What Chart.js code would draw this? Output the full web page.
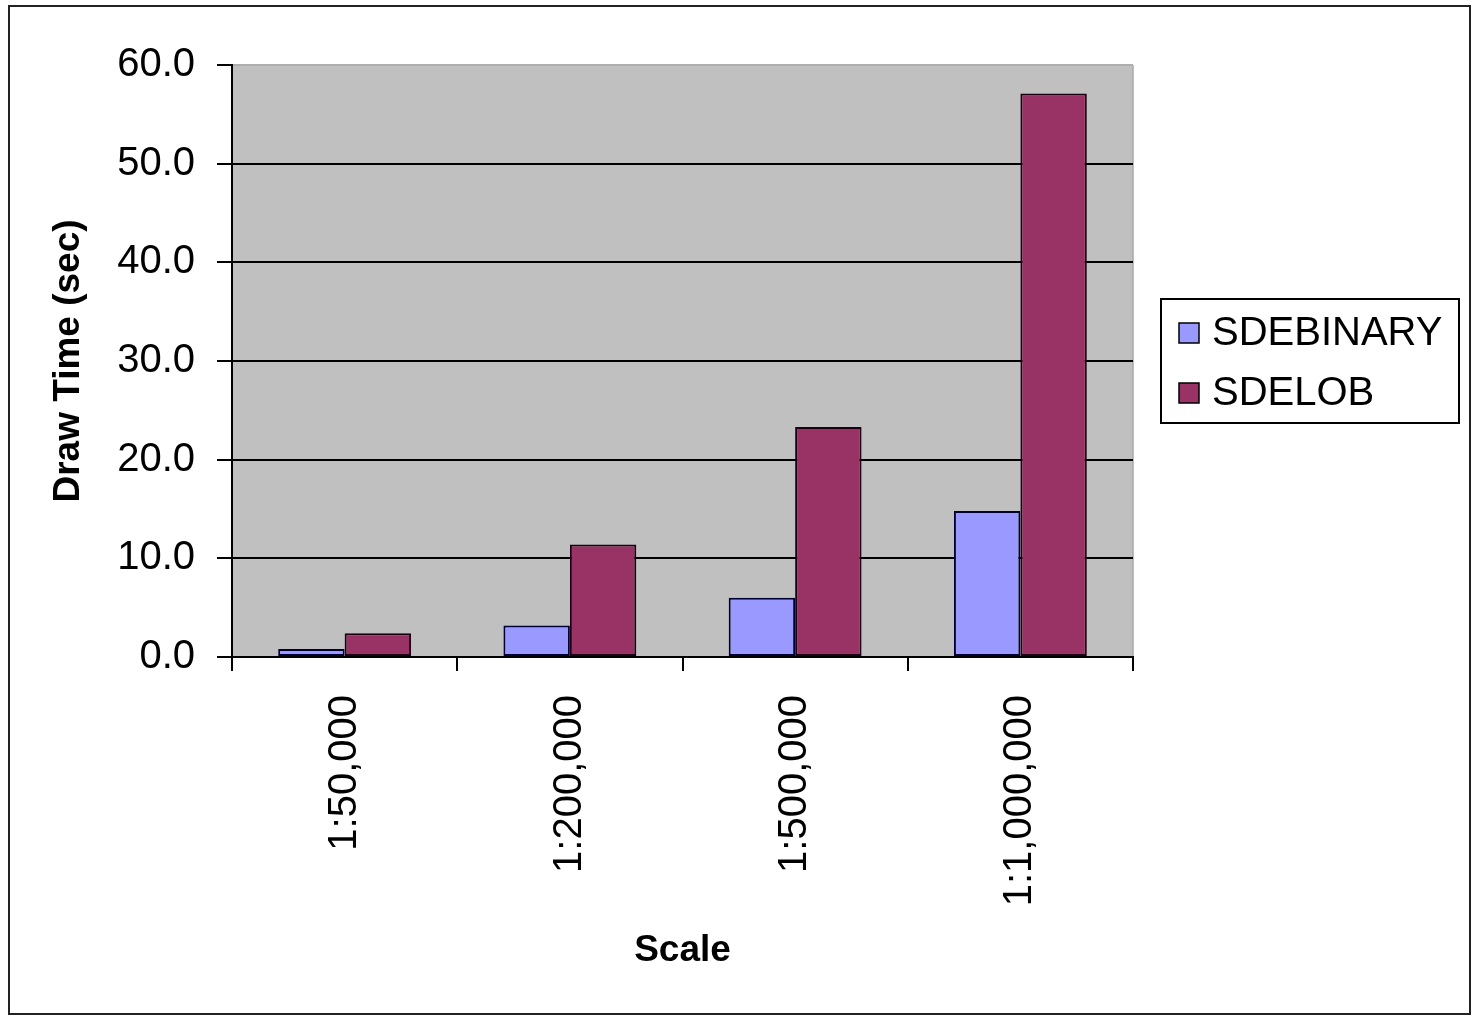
<!DOCTYPE html>
<html>
<head>
<meta charset="utf-8">
<script src="https://cdn.jsdelivr.net/npm/chart.js@4/dist/chart.umd.min.js"></script>
<style>
  html, body { margin: 0; padding: 0; background: #fff; }
  #wrap { width: 1480px; height: 1016px; }
</style>
</head>
<body>
<div id="wrap"><canvas id="drawTime" width="1480" height="1016"></canvas></div>
<script>
// chart data
const scales = ["1:50,000", "1:200,000", "1:500,000", "1:1,000,000"];
const seriesNames = ["SDEBINARY", "SDELOB"];
const sdeBinary = [0.8, 3.2, 6.0, 14.8];
const sdeLob = [2.4, 11.4, 23.3, 57.1];
const yTicks = [0, 10, 20, 30, 40, 50, 60];
const seriesColors = ["#9999ff", "#993366"];

const FONT = "'Liberation Sans', Arial, sans-serif";

// grey plot background + outer frame
const plotBackground = {
    id: 'plotBackground',
    beforeDraw(chart) {
        const ctx = chart.ctx;
        const a = chart.chartArea;
        ctx.save();
        ctx.fillStyle = '#c0c0c0';
        ctx.fillRect(a.left, a.top, a.right - a.left, a.bottom - a.top);
        // faint edge on the right, like the original
        ctx.strokeStyle = '#a8a8a8';
        ctx.lineWidth = 1.5;
        ctx.beginPath();
        ctx.moveTo(a.right, a.top);
        ctx.lineTo(a.right, a.bottom);
        ctx.stroke();
        ctx.strokeStyle = '#222';
        ctx.lineWidth = 2;
        ctx.strokeRect(9, 6, 1461, 1008);
        ctx.restore();
    }
};

// paint over the top gridline inside the plot, the tick mark stays
const topEdge = {
    id: 'topEdge',
    beforeDatasetsDraw(chart) {
        const ctx = chart.ctx;
        const a = chart.chartArea;
        ctx.save();
        ctx.fillStyle = '#c0c0c0';
        ctx.fillRect(a.left + 1, a.top - 1, a.right - a.left - 1, 3);
        ctx.strokeStyle = '#a8a8a8';
        ctx.lineWidth = 1.5;
        ctx.beginPath();
        ctx.moveTo(a.left + 1, a.top);
        ctx.lineTo(a.right, a.top);
        ctx.stroke();
        ctx.restore();
    }
};

// boxed legend like the old office charts
const boxLegend = {
    id: 'boxLegend',
    afterDraw(chart) {
        const ctx = chart.ctx;
        ctx.save();
        ctx.fillStyle = '#fff';
        ctx.fillRect(1161, 299, 298, 124);
        ctx.strokeStyle = '#000';
        ctx.lineWidth = 2;
        ctx.strokeRect(1161, 299, 298, 124);
        ctx.font = '40px ' + FONT;
        ctx.textBaseline = 'middle';
        chart.data.datasets.forEach((ds, k) => {
            const y = 333 + k * 60;
            ctx.fillStyle = ds.backgroundColor;
            ctx.fillRect(1179, y - 10, 20, 20);
            ctx.strokeStyle = '#000';
            ctx.lineWidth = 1.5;
            ctx.strokeRect(1179, y - 10, 20, 20);
            ctx.fillStyle = '#000';
            ctx.fillText(ds.label, 1212, y + 1);
        });
        ctx.restore();
    }
};

new Chart(document.getElementById("drawTime"), {
    type: 'bar',
    data: {
        labels: scales,
        datasets: [
            {
                label: seriesNames[0],
                data: sdeBinary,
                backgroundColor: seriesColors[0],
                borderColor: "#000033",
                borderWidth: 2,
                borderSkipped: false
            },
            {
                label: seriesNames[1],
                data: sdeLob,
                backgroundColor: seriesColors[1],
                borderColor: "#1a0010",
                borderWidth: 2,
                borderSkipped: false
            }
        ]
    },
    options: {
        responsive: false,
        animation: false,
        devicePixelRatio: 1,
        layout: {
            padding: { left: 40, top: 65, right: 347, bottom: 20 }
        },
        datasets: {
            bar: { barPercentage: 1, categoryPercentage: 0.59 }
        },
        plugins: {
            legend: { display: false },
            tooltip: { enabled: false }
        },
        scales: {
            x: {
                afterFit(scale) { scale.height = 339; },
                grid: {
                    offset: true,
                    drawOnChartArea: false,
                    drawTicks: true,
                    tickLength: 14,
                    color: '#000',
                    lineWidth: 2
                },
                border: { color: '#000', width: 2 },
                ticks: {
                    minRotation: 90,
                    maxRotation: 90,
                    padding: 24,
                    color: '#000',
                    font: { family: FONT, size: 40 }
                },
                title: {
                    display: true,
                    text: 'Scale',
                    color: '#000',
                    font: { family: FONT, size: 37, weight: 'bold' },
                    padding: { top: 0, bottom: 23 }
                }
            },
            y: {
                min: 0,
                max: 60,
                afterFit(scale) { scale.width = 192; },
                afterBuildTicks(scale) { scale.ticks = yTicks.map(v => ({ value: v })); },
                grid: {
                    color: '#000',
                    lineWidth: 2,
                    tickLength: 15,
                    drawTicks: true
                },
                border: { color: '#000', width: 2 },
                ticks: {
                    padding: 22,
                    color: '#000',
                    font: { family: FONT, size: 40 },
                    callback: (v) => Number(v).toFixed(1)
                },
                title: {
                    display: true,
                    text: 'Draw Time (sec)',
                    color: '#000',
                    font: { family: FONT, size: 37, weight: 'bold' },
                    padding: { top: 7, bottom: 0 }
                }
            }
        }
    },
    plugins: [plotBackground, topEdge, boxLegend]
});
</script>
</body>
</html>
